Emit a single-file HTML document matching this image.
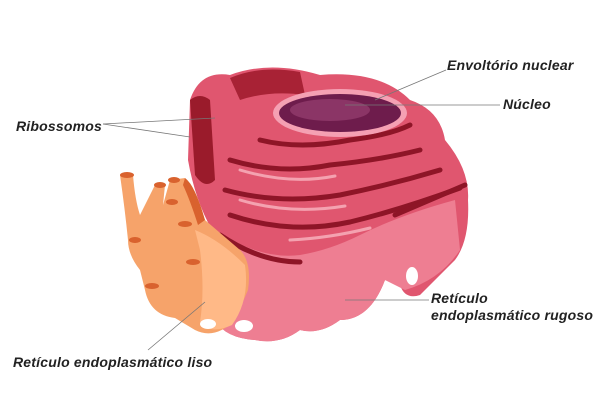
<!DOCTYPE html>
<html><head><meta charset="utf-8"><style>
html,body{margin:0;padding:0;background:#fff;width:600px;height:400px;overflow:hidden}
svg{display:block}
text{font-family:"Liberation Sans",sans-serif;font-style:italic;font-weight:bold;font-size:14px;letter-spacing:0.2px;fill:#222}
</style></head><body>
<svg width="600" height="400" viewBox="0 0 600 400">
<path d="M190,100 Q200,70 230,75 Q270,60 320,75 Q380,70 410,100 Q440,110 445,140 Q470,170 468,200 Q470,240 455,260 L420,295 Q405,300 400,285 L385,280 Q370,320 340,320 Q320,335 300,330 Q280,345 255,340 Q225,338 215,320 L212,230 Q195,200 188,160 Z" fill="#e0566f"/>
<path d="M215,230 Q260,260 300,255 Q330,250 360,235 Q400,215 455,200 L460,250 Q440,280 405,290 L385,280 Q370,320 340,320 Q320,335 300,330 Q280,345 255,340 Q225,338 215,320 Z" fill="#ee7e92"/>
<path d="M190,100 Q200,92 210,100 L215,180 Q205,190 195,175 Z" fill="#9a1b2b"/>
<path d="M230,78 Q260,65 300,72 L305,95 Q270,90 240,100 Z" fill="#a82235"/>
<g fill="none" stroke="#8e1527" stroke-width="5" stroke-linecap="round">
<path d="M230,160 Q280,175 330,165 Q380,160 420,150"/>
<path d="M225,190 Q280,205 340,195 Q390,185 440,170"/>
<path d="M230,215 Q290,235 350,222 Q400,210 460,188"/>
<path d="M260,140 Q300,150 350,140 Q390,135 410,125"/>
<path d="M220,235 Q260,262 300,262"/>
<path d="M395,215 Q430,200 465,185"/>
</g>
<g fill="none" stroke="#f4a2b0" stroke-width="3" stroke-linecap="round">
<path d="M240,170 Q290,185 335,176"/>
<path d="M240,200 Q290,215 345,206"/>
<path d="M290,240 Q330,238 370,228"/>
</g>
<ellipse cx="340" cy="113" rx="67" ry="24" fill="#f5a0b3"/>
<ellipse cx="340" cy="113" rx="61" ry="19" fill="#6e1c4c"/>
<ellipse cx="330" cy="110" rx="40" ry="11" fill="#8b3566"/>
<ellipse cx="412" cy="276" rx="6" ry="9" fill="#fff"/>
<ellipse cx="244" cy="326" rx="9" ry="6" fill="#fff"/>
<path d="M120,175 L133,175 Q135,200 140,215 L155,185 L165,185 L163,205 L170,180 L185,178 L195,200 L205,220 L240,250 Q252,262 248,290 L235,320 Q215,340 195,330 L175,318 Q150,315 145,290 L140,270 Q128,255 128,240 Q125,210 120,175 Z" fill="#f6a36a"/>
<path d="M195,230 Q220,240 245,265 Q250,300 232,325 Q210,335 200,322 Q205,290 200,250 Z" fill="#ffb987"/>
<path d="M185,178 Q195,185 205,220 L198,225 Q190,200 183,185 Z" fill="#d9622e"/>
<g fill="#d9622e"><ellipse cx="127" cy="175" rx="7" ry="3"/><ellipse cx="160" cy="185" rx="6" ry="3"/><ellipse cx="172" cy="202" rx="6" ry="3"/><ellipse cx="174" cy="180" rx="6" ry="3"/><ellipse cx="135" cy="240" rx="6" ry="3"/><ellipse cx="185" cy="224" rx="7" ry="3"/><ellipse cx="193" cy="262" rx="7" ry="3"/><ellipse cx="152" cy="286" rx="7" ry="3"/></g>
<ellipse cx="208" cy="324" rx="8" ry="5" fill="#fff"/>
<g stroke="#777" stroke-width="0.8">
<line x1="446" y1="70" x2="375" y2="100"/>
<line x1="500" y1="105" x2="345" y2="105"/>
<line x1="103" y1="124" x2="215" y2="118"/>
<line x1="103" y1="124" x2="190" y2="137"/>
<line x1="429" y1="300" x2="345" y2="300"/>
<line x1="148" y1="350" x2="205" y2="302"/>
</g>
<text x="447" y="70">Envoltório nuclear</text>
<text x="503" y="109">Núcleo</text>
<text x="16" y="131">Ribossomos</text>
<text x="431" y="303">Retículo</text>
<text x="431" y="320">endoplasmático rugoso</text>
<text x="13" y="367">Retículo endoplasmático liso</text>
</svg>
</body></html>
